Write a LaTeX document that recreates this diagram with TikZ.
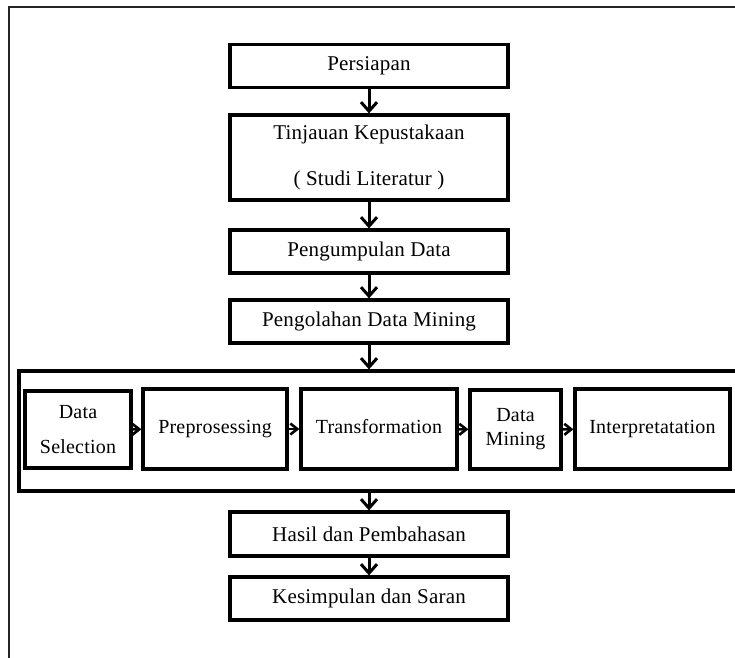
\documentclass[tikz,border=0pt]{standalone}
\usepackage{fontspec}
\setmainfont[LetterSpace=1]{Liberation Serif}
\usetikzlibrary{arrows.meta}
\begin{document}
\begin{tikzpicture}[x=1pt,y=-1pt,
  box/.style={draw, line width=3.2pt, rectangle, minimum height=43pt,
    minimum width=278pt, inner sep=0pt, align=center,
    font=\fontsize{21}{24}\selectfont},
  stagebox/.style={box, font=\fontsize{20}{24}\selectfont},
  frame/.style={draw, line width=3.2pt, rectangle, inner sep=0pt},
  flow/.style={line width=3pt,
    -{Straight Barb[length=9pt,width=16pt,line width=3pt]}},
  hop/.style={line width=2.4pt,
    -{Straight Barb[length=7pt,width=11pt,line width=2.6pt]}}]
  \useasboundingbox (0,0) rectangle (735,657);
  \clip (0,0) rectangle (735,657);

  % page border
  \draw[line width=1.8pt, black!85] (9,700) -- (9,7) -- (760,7);

  % main steps
  \node[box] (prep) at (369,66) {Persiapan};
  \node[box, minimum height=85pt] (lit) at (369,157.5)
    {Tinjauan Kepustakaan\\[22pt]( Studi Literatur )};
  \node[box] (collect) at (369,251.5) {Pengumpulan Data};
  \node[box] (mining) at (369,321.5) {Pengolahan Data Mining};

  % KDD stages container
  \node[frame, minimum width=760pt, minimum height=120pt] (kdd) at (399,431) {};
  \node[stagebox, minimum width=106pt, minimum height=77pt] (sel) at (78,429.5)
    {Data\\[11pt]Selection};
  \node[stagebox, minimum width=144pt, minimum height=80pt] (pre) at (215,429)
    {\raisebox{3pt}{Preprosessing}};
  \node[stagebox, minimum width=156pt, minimum height=80pt] (trans) at (379,429)
    {\raisebox{5pt}{Transformation}};
  \node[stagebox, minimum width=91pt, minimum height=79pt] (dm) at (515.5,429.5)
    {Data\\Mining};
  \node[stagebox, minimum width=155pt, minimum height=80pt] (interp) at (652.5,429)
    {\raisebox{4pt}{Interpretatation}};

  % closing steps
  \node[box, minimum height=44pt] (result) at (369,534) {Hasil dan Pembahasan};
  \node[box] (concl) at (369,598.5) {Kesimpulan dan Saran};

  % connectors
  \draw[flow] (prep) -- (lit);
  \draw[flow] (lit) -- (collect);
  \draw[flow] (collect) -- (mining);
  \draw[flow] (mining) -- (mining |- kdd.north);
  \draw[flow] (kdd.south -| result) -- (result);
  \draw[flow] (result) -- (concl);

  \draw[hop] (sel) -- (pre);
  \draw[hop] (pre) -- (trans);
  \draw[hop] (trans) -- (dm);
  \draw[hop] (dm) -- (interp);
\end{tikzpicture}
\end{document}
